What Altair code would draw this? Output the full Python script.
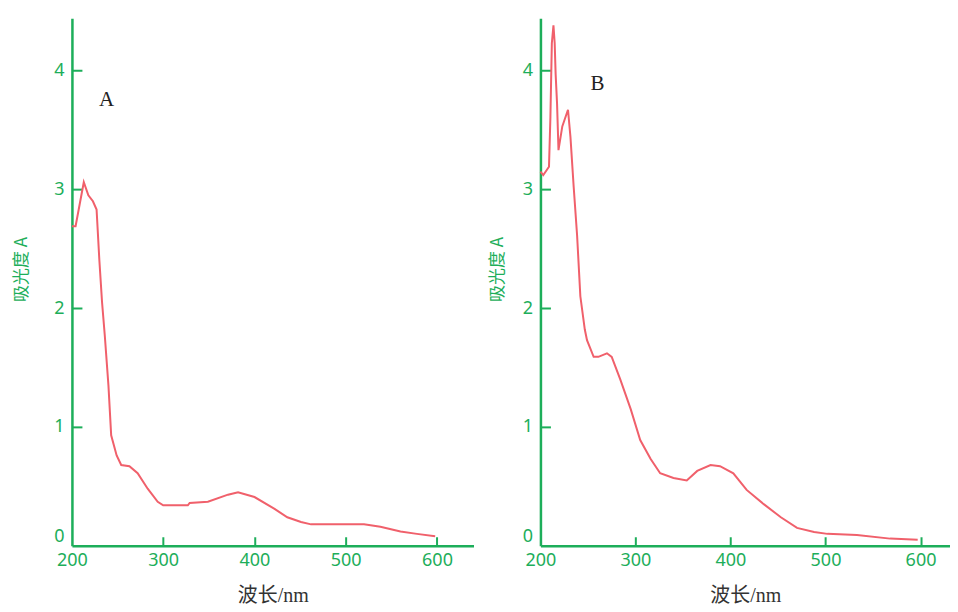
import altair as alt
import pandas as pd

# ---- data ----
wl_a = [200, 204, 213, 218, 223, 227, 230, 233, 236, 240, 243, 249, 254, 263, 272, 283, 294, 300,
        327, 329, 349, 371, 382, 400, 422, 436, 451, 462, 484, 520, 538, 560, 578, 598]
abs_a = [2.69, 2.69, 3.06, 2.95, 2.90, 2.83, 2.41, 2.05, 1.77, 1.35, 0.93, 0.76, 0.68, 0.67, 0.61,
         0.48, 0.37, 0.34, 0.34, 0.36, 0.37, 0.43, 0.45, 0.41, 0.31, 0.24, 0.20, 0.18, 0.18, 0.18,
         0.16, 0.12, 0.10, 0.08]

wl_b = [200, 203, 209, 210.5, 212, 213.7, 215, 216, 217.5, 219, 223, 229, 231.6, 235, 238.6, 242,
        246.7, 249, 256, 261, 270, 275, 284, 295, 305, 316, 326, 340, 354, 365, 379, 389, 403, 417,
        435, 453, 470, 488, 502, 533, 568, 597]
abs_b = [3.15, 3.12, 3.19, 3.61, 4.23, 4.38, 4.23, 3.97, 3.72, 3.33, 3.53, 3.67, 3.44, 3.02, 2.61,
         2.10, 1.82, 1.73, 1.59, 1.59, 1.62, 1.59, 1.40, 1.15, 0.89, 0.73, 0.61, 0.57, 0.55, 0.63,
         0.68, 0.67, 0.61, 0.47, 0.35, 0.24, 0.15, 0.115, 0.10, 0.09, 0.06, 0.05]

x_labels = [200, 300, 400, 500, 600]
x_ticks = [300, 400, 500, 600]
y_labels = [0, 1, 2, 3, 4]
y_ticks = [1, 2, 3, 4]

GREEN = "#1DAE5A"
RED = "#F0606B"
H = 528


def panel(wl, ab, xmax, width, letter, lx, ly, ytitle_pad):
    xscale = alt.Scale(domain=[200, xmax], nice=False, zero=False)
    yscale = alt.Scale(domain=[0, 4.44], nice=False)
    xaxis = alt.Axis(values=x_labels, ticks=False, grid=False, domainColor=GREEN, domainWidth=2.5,
                     labelColor=GREEN, labelFont="Noto Sans", labelFontSize=18, labelPadding=6,
                     labelFlush=False, title="波长/nm", titleColor="#333333",
                     titleFont="Liberation Serif, Noto Sans CJK SC", titleFontSize=20,
                     titleFontWeight="normal", titlePadding=16)
    yaxis = alt.Axis(values=y_labels, ticks=False, grid=False, domainColor=GREEN, domainWidth=2.5,
                     labelColor=GREEN, labelFont="Noto Sans", labelFontSize=18, labelPadding=8,
                     labelFlush=True, title="吸光度 A", titleColor=GREEN,
                     titleFont="Noto Sans CJK SC", titleFontSize=17, titleFontWeight="normal",
                     titlePadding=ytitle_pad, titleY=251)
    # inner tick marks: extra axes shifted into the plot, ticks only
    xtick_axis = alt.Axis(orient="bottom", values=x_ticks, offset=-9, tickSize=9, tickWidth=2,
                          tickColor=GREEN, domain=False, labels=False, grid=False, title=None)
    ytick_axis = alt.Axis(orient="left", values=y_ticks, offset=-10, tickSize=10, tickWidth=2,
                          tickColor=GREEN, domain=False, labels=False, grid=False, title=None)

    df = pd.DataFrame({"wl": wl, "A": ab})
    line = alt.Chart(df).mark_line(color=RED, strokeWidth=2).encode(
        x=alt.X("wl:Q", scale=xscale, axis=xaxis),
        y=alt.Y("A:Q", scale=yscale, axis=yaxis),
    )
    xt = alt.Chart(pd.DataFrame({"wl": x_ticks})).mark_point(opacity=0).encode(
        x=alt.X("wl:Q", scale=xscale, axis=xtick_axis), y=alt.value(0),
    )
    yt = alt.Chart(pd.DataFrame({"A": y_ticks})).mark_point(opacity=0).encode(
        y=alt.Y("A:Q", scale=yscale, axis=ytick_axis), x=alt.value(0),
    )
    lab = alt.Chart(pd.DataFrame({"wl": [lx], "A": [ly], "t": [letter]})).mark_text(
        font="Liberation Serif", fontSize=21, color="#222222"
    ).encode(
        x=alt.X("wl:Q", scale=xscale, axis=None),
        y=alt.Y("A:Q", scale=yscale, axis=None),
        text="t:N",
    )
    return alt.layer(line, xt, yt, lab).resolve_axis(
        x="independent", y="independent"
    ).properties(width=width, height=H)


pa = panel(wl_a, abs_a, 640, 402, "A", 238, 3.75, 23)
pb = panel(wl_b, abs_b, 631, 410, "B", 260, 3.89, 16)

chart = alt.hconcat(pa, pb, spacing=14).properties(
    padding={"left": 4, "top": 7, "right": 0, "bottom": 0}
).configure(background="white").configure_view(stroke=None)

chart.save("out.html", embed_options={"renderer": "svg", "actions": False})
